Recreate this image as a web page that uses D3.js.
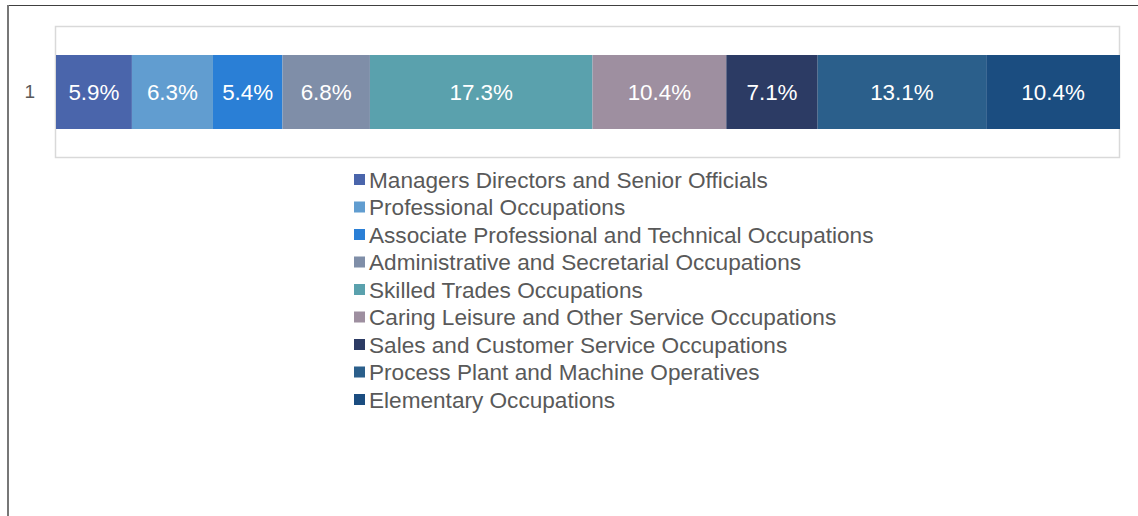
<!DOCTYPE html>
<html><head><meta charset="utf-8">
<script src="https://cdn.jsdelivr.net/npm/d3@7"></script>
<style>html,body{margin:0;padding:0;background:#fff;}svg{display:block;}</style>
</head><body>
<svg id="chart" width="1138" height="516"></svg>
<script>
const categories = ["1"];
const seriesNames = [
  "Managers Directors and Senior Officials",
  "Professional Occupations",
  "Associate Professional and Technical Occupations",
  "Administrative and Secretarial Occupations",
  "Skilled Trades Occupations",
  "Caring Leisure and Other Service Occupations",
  "Sales and Customer Service Occupations",
  "Process Plant and Machine Operatives",
  "Elementary Occupations"
];
const seriesValues = [5.9, 6.3, 5.4, 6.8, 17.3, 10.4, 7.1, 13.1, 10.4];
const seriesColors = ["#4a65ab", "#619dd0", "#2a7fd6", "#7f8ea8", "#5aa1ad", "#9e8fa0", "#2c3b64", "#2b5f8b", "#1b4d80"];

const svg = d3.select("#chart");
const font = "'Liberation Sans', Arial, sans-serif";

// outer frame lines
svg.append("line").attr("x1", 7).attr("x2", 1138).attr("y1", 5.5).attr("y2", 5.5).attr("stroke", "#404040").attr("stroke-width", 1);
svg.append("line").attr("x1", 8).attr("x2", 8).attr("y1", 5).attr("y2", 516).attr("stroke", "#777").attr("stroke-width", 2);

const plot = {left: 56, right: 1120, top: 26, bottom: 158};
const total = d3.sum(seriesValues);
const x = d3.scaleLinear().domain([0, total]).range([plot.left, plot.right]);
const y = d3.scaleBand().domain(categories).range([plot.top, plot.bottom]).paddingInner(0).paddingOuter(0.392);

// plot area border
svg.append("rect").attr("x", plot.left - 0.5).attr("y", plot.top + 0.5).attr("width", plot.right - plot.left).attr("height", plot.bottom - plot.top - 1)
  .attr("fill", "none").attr("stroke", "#d9d9d9").attr("stroke-width", 1.5);

let cum = 0;
const segs = seriesValues.map((v, i) => { const s = {name: seriesNames[i], v, x0: cum, x1: cum + v, color: seriesColors[i]}; cum += v; return s; });

const row = svg.append("g");
row.selectAll("rect.seg").data(segs).join("rect").attr("class", "seg")
  .attr("x", d => x(d.x0)).attr("width", d => x(d.x1) - x(d.x0))
  .attr("y", y("1")).attr("height", y.bandwidth())
  .attr("fill", d => d.color);
row.selectAll("text.lbl").data(segs).join("text").attr("class", "lbl")
  .attr("x", d => (x(d.x0) + x(d.x1)) / 2).attr("y", y("1") + y.bandwidth() / 2)
  .attr("text-anchor", "middle").attr("dominant-baseline", "central")
  .attr("fill", "#fff").attr("font-family", font).attr("font-size", 22.4)
  .text(d => d.v.toFixed(1) + "%");

// category axis
const yAxis = svg.append("g").attr("transform", `translate(${plot.left},0)`).call(d3.axisLeft(y).tickSize(0).tickPadding(21));
yAxis.select(".domain").remove();
yAxis.selectAll("text").attr("font-family", font).attr("font-size", 19).attr("fill", "#595959");

// legend
const legend = svg.append("g").attr("transform", "translate(354,180)");
const li = legend.selectAll("g").data(segs).join("g").attr("transform", (d, i) => `translate(0,${i * 27.5})`);
li.append("rect").attr("x", 0).attr("y", -6).attr("width", 11).attr("height", 11).attr("fill", d => d.color);
li.append("text").attr("x", 15).attr("y", 0).attr("dominant-baseline", "central")
  .attr("font-family", font).attr("font-size", 22.6).attr("fill", "#595959").text(d => d.name);
</script>
</body></html>
